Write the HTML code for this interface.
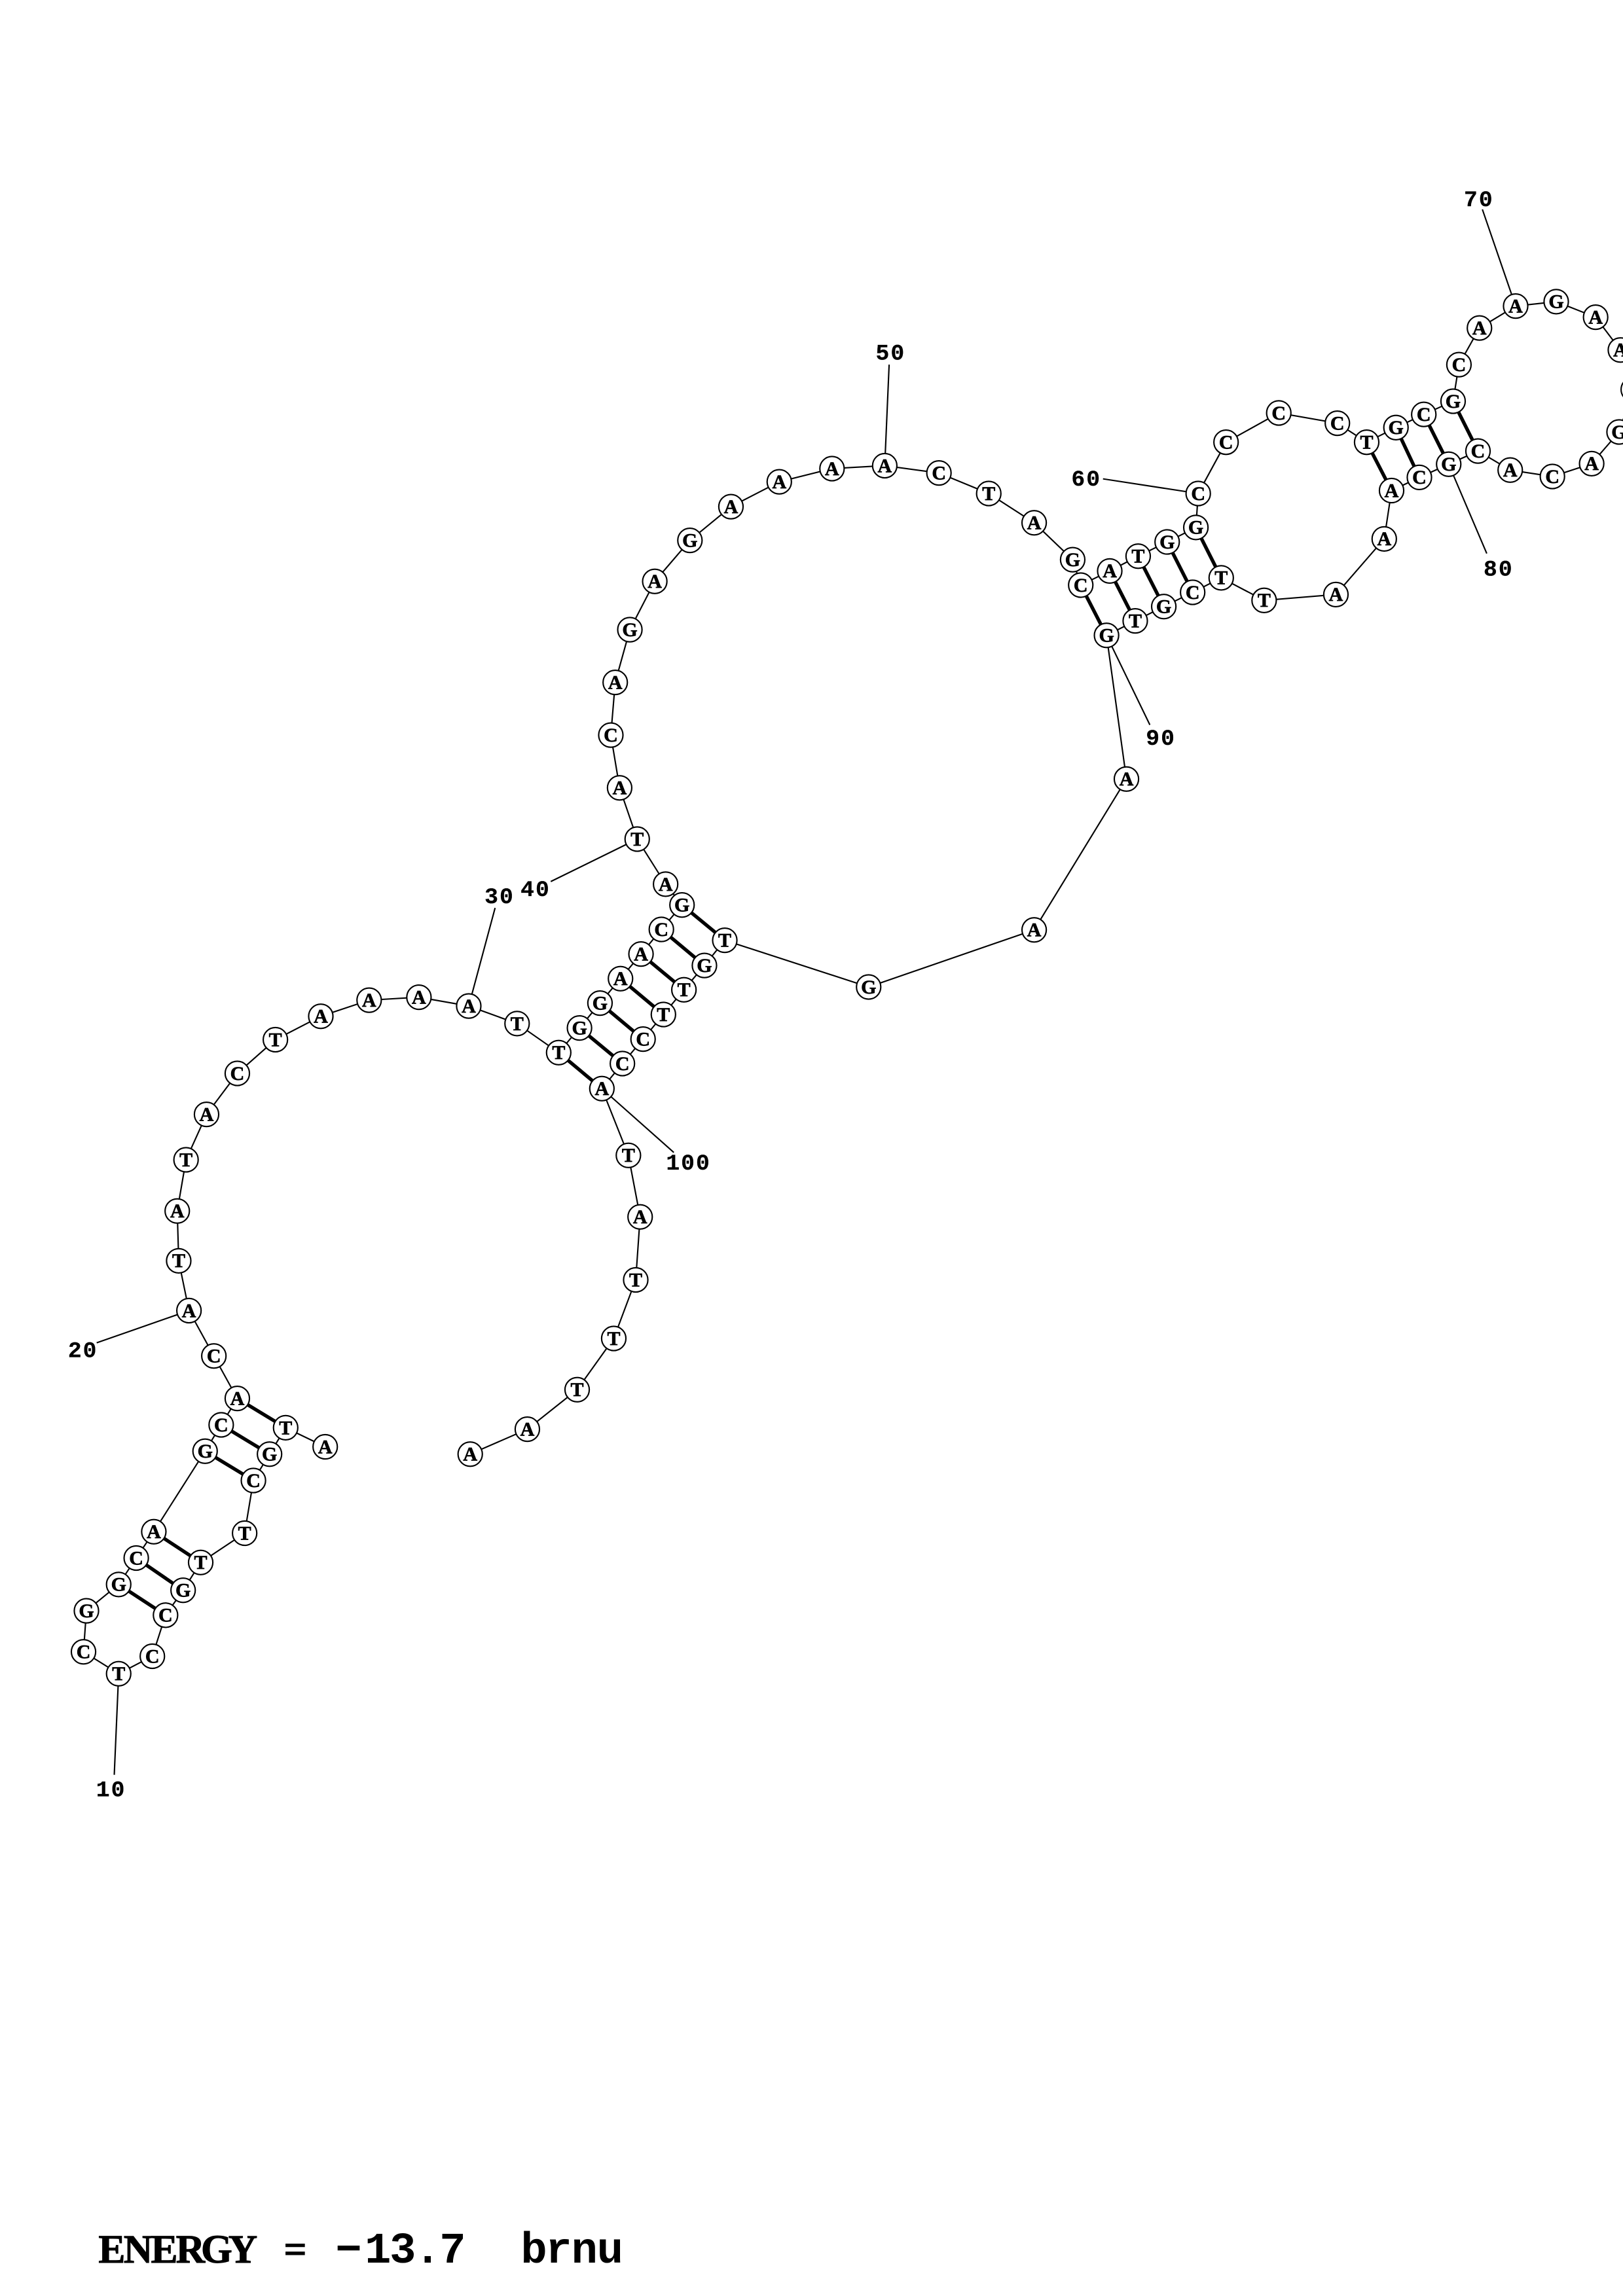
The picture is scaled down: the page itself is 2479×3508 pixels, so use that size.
<!DOCTYPE html>
<html><head><meta charset="utf-8"><title>brnu</title>
<style>
html,body{margin:0;padding:0;background:#fff}
svg{display:block}
.n text{font-family:"Liberation Serif",serif;font-weight:700;font-size:13.4px;text-anchor:middle;stroke:#000;stroke-width:.3px}
.l text{font-family:"Liberation Mono",monospace;font-weight:700;font-size:15.5px;text-anchor:middle;letter-spacing:.9px;stroke:#000;stroke-width:.12px}
.c{font-family:"Liberation Serif",serif;font-weight:700;font-size:27.5px;text-anchor:middle;stroke:#000;stroke-width:.45px}
.m{font-family:"Liberation Mono",monospace;font-weight:700;font-size:30px;text-anchor:middle}
</style></head><body>
<svg xmlns="http://www.w3.org/2000/svg" width="2479" height="3508" viewBox="0 0 1108 1567.92">
<rect width="1108" height="1568" fill="#fff"/>
<polyline fill="none" stroke="#000" stroke-width="0.95" points="222,988 195,975 184,993 173,1011 167,1047 137,1067 125,1086 113,1103 104,1131 81,1143 57,1128 59,1100 81,1082 93,1064 105,1046 140,991 151,973 162,955 146,926 129,895 122,861 121,827 127,792 141,761 162,733 188,710 219,694 252,683 286,681 320,687 353,699 381.4,718.8 395.6,702 409.6,685 423.6,668.3 437.6,651.5 451.5,634.7 465.6,618 454.4,603.8 435,573 423,538 417,502 420,466 430,430 447,397 471,369 499,346 532,329 568,320 604,318 641,323 675,337 706,357 732.3,382.2 737.8,399.6 757.6,389.9 777,379.8 796.8,370.1 816.4,360.2 818,337 837,302 873,282 913,289 933,302 953,292 972,283 992,274 996,249 1010,224 1034.7,209 1062.4,206 1089.3,216.6 1106.2,239 1115,266 1105.3,295 1086.6,316.6 1059.8,325.4 1031,321 1009,308 989,317 969,326 950,335 945,368 912,406 863,410 833.7,394.6 814.2,404.5 794.5,414.2 775,424 755.4,433.9 769,532 706,635 593,674 494.8,642.1 480.9,659.3 466.9,675.9 452.9,692.8 439,709.6 424.9,726.3 410.9,743.4 429,789 437,831 434,874 419,914 394,949 360,976 321,993"/>
<g fill="none" stroke="#000" stroke-width="0.95">
<path d="M81,1143L78,1212M129,895L66,917M320,687L338,620M435,573L376,602M604,318L607,249M818,337L753,327M1034.7,209L1012,143M989,317L1015,378M755.4,433.9L785,495M410.9,743.4L460,787"/>
</g>
<g fill="none" stroke="#000" stroke-width="2.4">
<path d="M195,975L162,955M184,993L151,973M173,1011L140,991M137,1067L105,1046M125,1086L93,1064M113,1103L81,1082"/>
<path d="M381.4,718.8L410.9,743.4M395.6,702L424.9,726.3M409.6,685L439,709.6M423.6,668.3L452.9,692.8M437.6,651.5L466.9,675.9M451.5,634.7L480.9,659.3M465.6,618L494.8,642.1"/>
<path d="M737.8,399.6L755.4,433.9M757.6,389.9L775,424M777,379.8L794.5,414.2M796.8,370.1L814.2,404.5M816.4,360.2L833.7,394.6"/>
<path d="M933,302L950,335M953,292L969,326M972,283L989,317M992,274L1009,308"/>
</g>
<g fill="#fff" stroke="#000" stroke-width="0.95">
<circle cx="222" cy="988" r="8.3"/><circle cx="195" cy="975" r="8.3"/><circle cx="184" cy="993" r="8.3"/><circle cx="173" cy="1011" r="8.3"/><circle cx="167" cy="1047" r="8.3"/><circle cx="137" cy="1067" r="8.3"/><circle cx="125" cy="1086" r="8.3"/><circle cx="113" cy="1103" r="8.3"/><circle cx="104" cy="1131" r="8.3"/><circle cx="81" cy="1143" r="8.3"/><circle cx="57" cy="1128" r="8.3"/><circle cx="59" cy="1100" r="8.3"/><circle cx="81" cy="1082" r="8.3"/><circle cx="93" cy="1064" r="8.3"/><circle cx="105" cy="1046" r="8.3"/><circle cx="140" cy="991" r="8.3"/><circle cx="151" cy="973" r="8.3"/><circle cx="162" cy="955" r="8.3"/><circle cx="146" cy="926" r="8.3"/><circle cx="129" cy="895" r="8.3"/><circle cx="122" cy="861" r="8.3"/><circle cx="121" cy="827" r="8.3"/><circle cx="127" cy="792" r="8.3"/><circle cx="141" cy="761" r="8.3"/><circle cx="162" cy="733" r="8.3"/><circle cx="188" cy="710" r="8.3"/><circle cx="219" cy="694" r="8.3"/><circle cx="252" cy="683" r="8.3"/><circle cx="286" cy="681" r="8.3"/><circle cx="320" cy="687" r="8.3"/><circle cx="353" cy="699" r="8.3"/><circle cx="381.4" cy="718.8" r="8.3"/><circle cx="395.6" cy="702" r="8.3"/><circle cx="409.6" cy="685" r="8.3"/><circle cx="423.6" cy="668.3" r="8.3"/><circle cx="437.6" cy="651.5" r="8.3"/><circle cx="451.5" cy="634.7" r="8.3"/><circle cx="454.4" cy="603.8" r="8.3"/><circle cx="465.6" cy="618" r="8.3"/><circle cx="435" cy="573" r="8.3"/><circle cx="423" cy="538" r="8.3"/><circle cx="417" cy="502" r="8.3"/><circle cx="420" cy="466" r="8.3"/><circle cx="430" cy="430" r="8.3"/><circle cx="447" cy="397" r="8.3"/><circle cx="471" cy="369" r="8.3"/><circle cx="499" cy="346" r="8.3"/><circle cx="532" cy="329" r="8.3"/><circle cx="568" cy="320" r="8.3"/><circle cx="604" cy="318" r="8.3"/><circle cx="641" cy="323" r="8.3"/><circle cx="675" cy="337" r="8.3"/><circle cx="706" cy="357" r="8.3"/><circle cx="732.3" cy="382.2" r="8.3"/><circle cx="737.8" cy="399.6" r="8.3"/><circle cx="757.6" cy="389.9" r="8.3"/><circle cx="777" cy="379.8" r="8.3"/><circle cx="796.8" cy="370.1" r="8.3"/><circle cx="816.4" cy="360.2" r="8.3"/><circle cx="818" cy="337" r="8.3"/><circle cx="837" cy="302" r="8.3"/><circle cx="873" cy="282" r="8.3"/><circle cx="913" cy="289" r="8.3"/><circle cx="933" cy="302" r="8.3"/><circle cx="953" cy="292" r="8.3"/><circle cx="972" cy="283" r="8.3"/><circle cx="992" cy="274" r="8.3"/><circle cx="996" cy="249" r="8.3"/><circle cx="1010" cy="224" r="8.3"/><circle cx="1034.7" cy="209" r="8.3"/><circle cx="1062.4" cy="206" r="8.3"/><circle cx="1089.3" cy="216.6" r="8.3"/><circle cx="1106.2" cy="239" r="8.3"/><circle cx="1115" cy="266" r="8.3"/><circle cx="1105.3" cy="295" r="8.3"/><circle cx="1086.6" cy="316.6" r="8.3"/><circle cx="1059.8" cy="325.4" r="8.3"/><circle cx="1031" cy="321" r="8.3"/><circle cx="1009" cy="308" r="8.3"/><circle cx="989" cy="317" r="8.3"/><circle cx="969" cy="326" r="8.3"/><circle cx="950" cy="335" r="8.3"/><circle cx="945" cy="368" r="8.3"/><circle cx="912" cy="406" r="8.3"/><circle cx="863" cy="410" r="8.3"/><circle cx="833.7" cy="394.6" r="8.3"/><circle cx="814.2" cy="404.5" r="8.3"/><circle cx="794.5" cy="414.2" r="8.3"/><circle cx="775" cy="424" r="8.3"/><circle cx="755.4" cy="433.9" r="8.3"/><circle cx="769" cy="532" r="8.3"/><circle cx="706" cy="635" r="8.3"/><circle cx="593" cy="674" r="8.3"/><circle cx="494.8" cy="642.1" r="8.3"/><circle cx="480.9" cy="659.3" r="8.3"/><circle cx="466.9" cy="675.9" r="8.3"/><circle cx="452.9" cy="692.8" r="8.3"/><circle cx="439" cy="709.6" r="8.3"/><circle cx="424.9" cy="726.3" r="8.3"/><circle cx="410.9" cy="743.4" r="8.3"/><circle cx="429" cy="789" r="8.3"/><circle cx="437" cy="831" r="8.3"/><circle cx="434" cy="874" r="8.3"/><circle cx="419" cy="914" r="8.3"/><circle cx="394" cy="949" r="8.3"/><circle cx="360" cy="976" r="8.3"/><circle cx="321" cy="993" r="8.3"/>
</g>
<g class="n" transform="translate(0,4.4)">
<text x="222" y="988">A</text><text x="195" y="975">T</text><text x="184" y="993">G</text><text x="173" y="1011">C</text><text x="167" y="1047">T</text><text x="137" y="1067">T</text><text x="125" y="1086">G</text><text x="113" y="1103">C</text><text x="104" y="1131">C</text><text x="81" y="1143">T</text><text x="57" y="1128">C</text><text x="59" y="1100">G</text><text x="81" y="1082">G</text><text x="93" y="1064">C</text><text x="105" y="1046">A</text><text x="140" y="991">G</text><text x="151" y="973">C</text><text x="162" y="955">A</text><text x="146" y="926">C</text><text x="129" y="895">A</text><text x="122" y="861">T</text><text x="121" y="827">A</text><text x="127" y="792">T</text><text x="141" y="761">A</text><text x="162" y="733">C</text><text x="188" y="710">T</text><text x="219" y="694">A</text><text x="252" y="683">A</text><text x="286" y="681">A</text><text x="320" y="687">A</text><text x="353" y="699">T</text><text x="381.4" y="718.8">T</text><text x="395.6" y="702">G</text><text x="409.6" y="685">G</text><text x="423.6" y="668.3">A</text><text x="437.6" y="651.5">A</text><text x="451.5" y="634.7">C</text><text x="465.6" y="618">G</text><text x="454.4" y="603.8">A</text><text x="435" y="573">T</text><text x="423" y="538">A</text><text x="417" y="502">C</text><text x="420" y="466">A</text><text x="430" y="430">G</text><text x="447" y="397">A</text><text x="471" y="369">G</text><text x="499" y="346">A</text><text x="532" y="329">A</text><text x="568" y="320">A</text><text x="604" y="318">A</text><text x="641" y="323">C</text><text x="675" y="337">T</text><text x="706" y="357">A</text><text x="732.3" y="382.2">G</text><text x="737.8" y="399.6">C</text><text x="757.6" y="389.9">A</text><text x="777" y="379.8">T</text><text x="796.8" y="370.1">G</text><text x="816.4" y="360.2">G</text><text x="818" y="337">C</text><text x="837" y="302">C</text><text x="873" y="282">C</text><text x="913" y="289">C</text><text x="933" y="302">T</text><text x="953" y="292">G</text><text x="972" y="283">C</text><text x="992" y="274">G</text><text x="996" y="249">C</text><text x="1010" y="224">A</text><text x="1034.7" y="209">A</text><text x="1062.4" y="206">G</text><text x="1089.3" y="216.6">A</text><text x="1106.2" y="239">A</text><text x="1105.3" y="295">G</text><text x="1086.6" y="316.6">A</text><text x="1059.8" y="325.4">C</text><text x="1031" y="321">A</text><text x="1009" y="308">C</text><text x="989" y="317">G</text><text x="969" y="326">C</text><text x="950" y="335">A</text><text x="945" y="368">A</text><text x="912" y="406">A</text><text x="863" y="410">T</text><text x="833.7" y="394.6">T</text><text x="814.2" y="404.5">C</text><text x="794.5" y="414.2">G</text><text x="775" y="424">T</text><text x="755.4" y="433.9">G</text><text x="769" y="532">A</text><text x="706" y="635">A</text><text x="593" y="674">G</text><text x="494.8" y="642.1">T</text><text x="480.9" y="659.3">G</text><text x="466.9" y="675.9">T</text><text x="452.9" y="692.8">T</text><text x="439" y="709.6">C</text><text x="424.9" y="726.3">C</text><text x="410.9" y="743.4">A</text><text x="429" y="789">T</text><text x="437" y="831">A</text><text x="434" y="874">T</text><text x="419" y="914">T</text><text x="394" y="949">T</text><text x="360" y="976">A</text><text x="321" y="993">A</text>
</g>
<g class="l">
<text x="75.8" y="1226.7">10</text><text x="56.6" y="926.8">20</text><text x="341" y="616.7">30</text><text x="365.6" y="611.8">40</text><text x="608" y="245.7">50</text><text x="741.6" y="331.7">60</text><text x="1009.6" y="140.7">70</text><text x="1023" y="393">80</text><text x="792.5" y="508.7">90</text><text x="470" y="798.7">100</text>
</g>
<text class="c" y="1545.2" x="76.4 94.3 112.2 130 147.9 165.8 183.7 201.6">ENERGY =</text>
<text class="m" y="1545.2" x="238 258 275 292 309">−13.7</text>
<text class="m" y="1545.2" x="364.5 381.5 399 416.5">brnu</text>
</svg>
</body></html>
